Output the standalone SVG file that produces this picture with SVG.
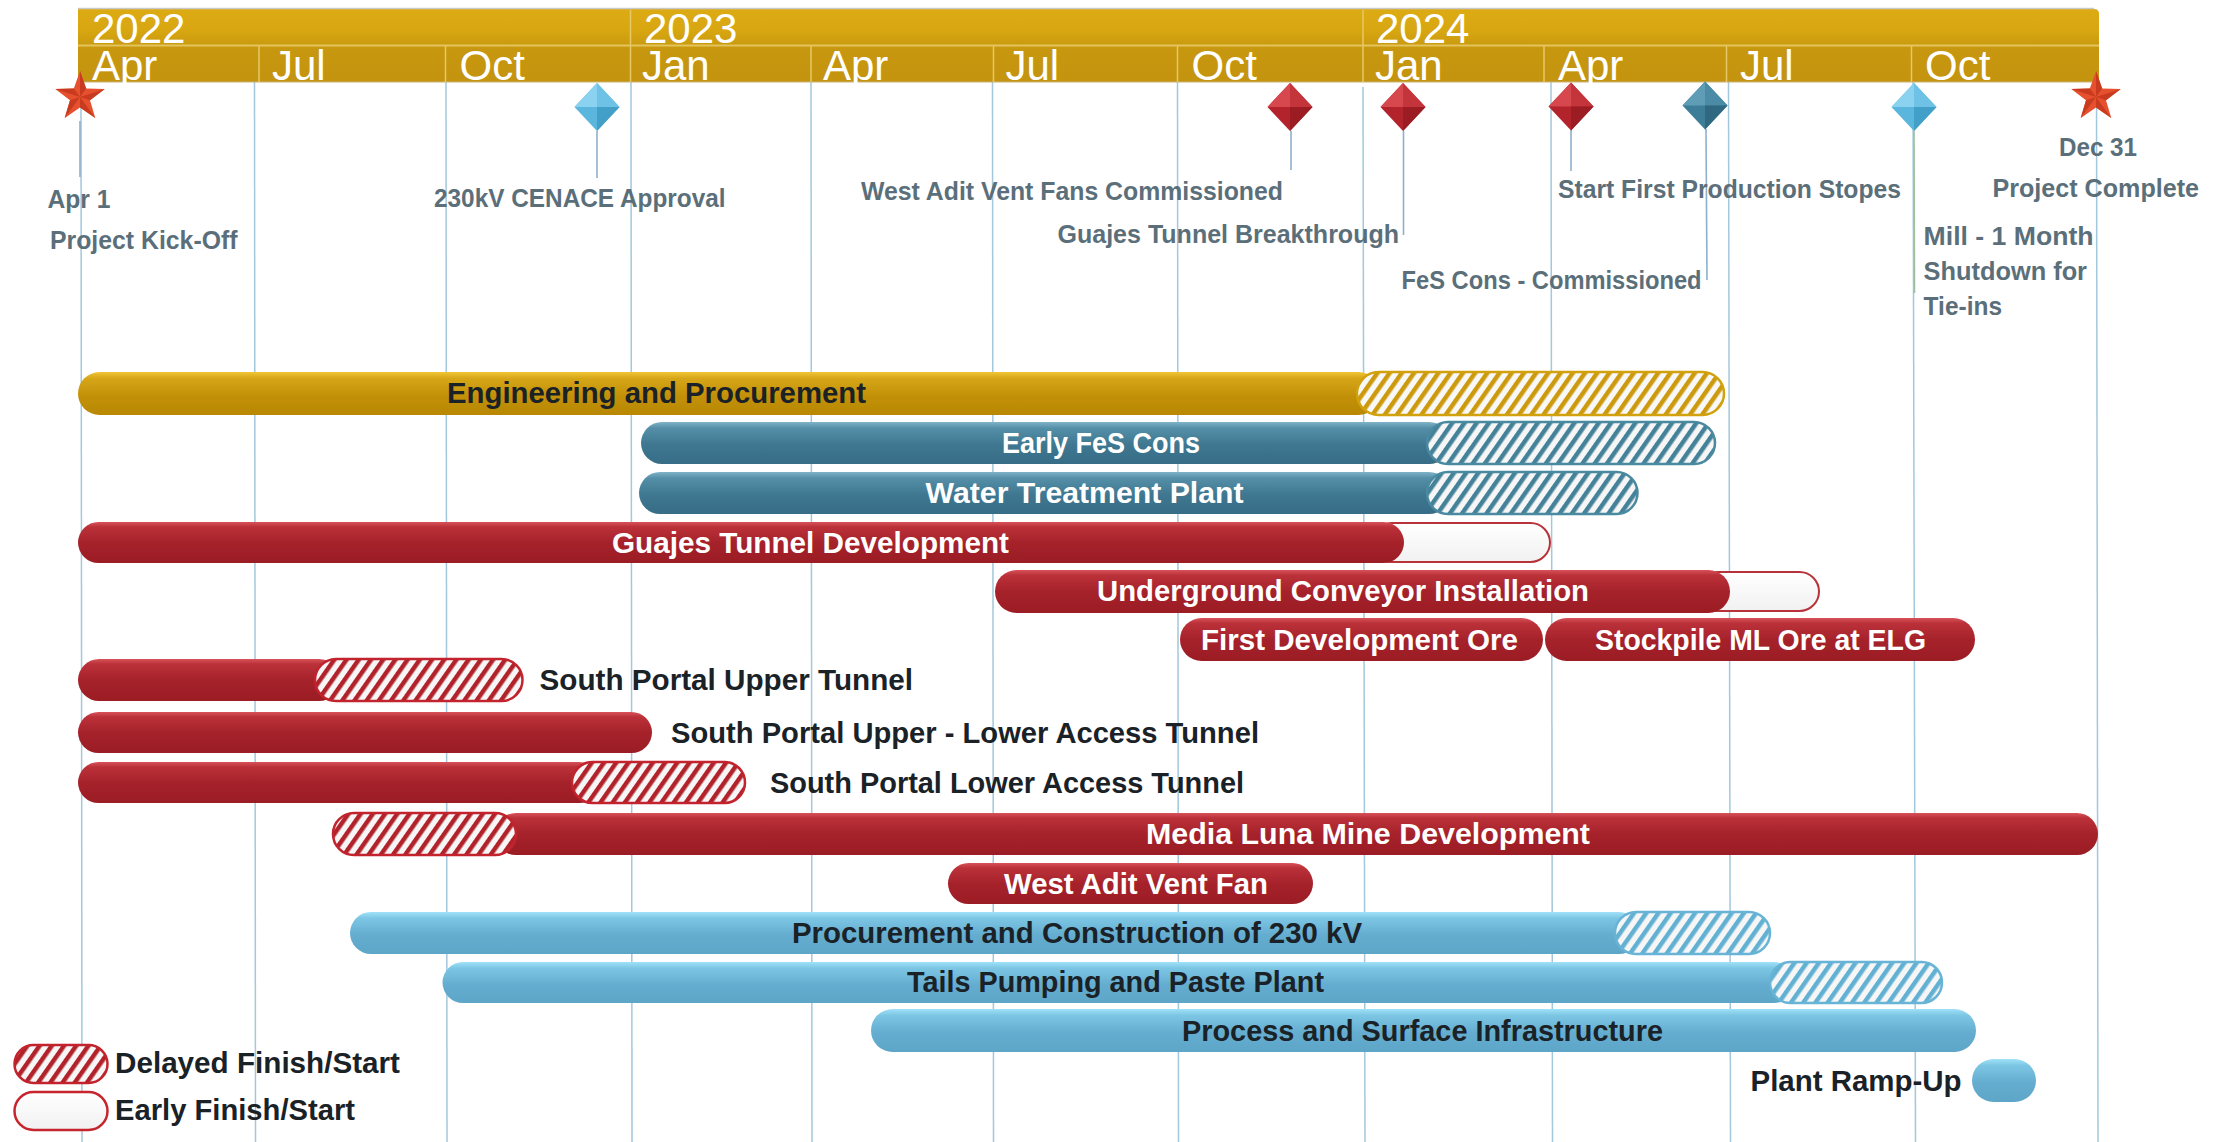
<svg xmlns="http://www.w3.org/2000/svg" xmlns:xlink="http://www.w3.org/1999/xlink" width="2224" height="1142" viewBox="0 0 2224 1142">
<style>
.hd{font-family:'Liberation Sans',Arial,sans-serif;font-size:42px;fill:#ffffff}
.lb{font-family:'Liberation Sans',Arial,sans-serif;font-weight:bold;font-size:29px}
.w{fill:#ffffff}
.k{fill:#1a2227}
.ms{font-family:'Liberation Sans',Arial,sans-serif;font-weight:bold;font-size:25px;fill:#5b6f7a}
.grid{stroke:#a3c7dc;stroke-width:1.5;fill:none}
.sep{stroke:#e6c866;stroke-width:1.5}
.stem{stroke:#8fb0cc;stroke-width:1.6;fill:none}
.red{fill:url(#gRed)}
.gold{fill:url(#gGold)}
.teal{fill:url(#gTeal)}
.lblue{fill:url(#gLBlue)}
.hRed{fill:url(#pRed);stroke:#c2232c;stroke-width:2.5}
.hGold{fill:url(#pGold);stroke:#d2a10e;stroke-width:2.5}
.hTeal{fill:url(#pTeal);stroke:#4a8aa0;stroke-width:2.5}
.hLBlue{fill:url(#pLBlue);stroke:#67b4d6;stroke-width:2.5}
.early{fill:url(#gWhite);stroke:#b8323a;stroke-width:2}
</style>
<defs>
<linearGradient id="gHead" x1="0" y1="0" x2="0" y2="1">
<stop offset="0" stop-color="#dcab14"/><stop offset="0.3" stop-color="#d7a611"/><stop offset="0.55" stop-color="#c7970f"/><stop offset="1" stop-color="#c4940f"/>
</linearGradient>
<linearGradient id="gRed" x1="0" y1="0" x2="0" y2="1">
<stop offset="0" stop-color="#d8525a"/><stop offset="0.12" stop-color="#bb3139"/><stop offset="0.5" stop-color="#a6222b"/><stop offset="1" stop-color="#9b1c24"/>
</linearGradient>
<linearGradient id="gGold" x1="0" y1="0" x2="0" y2="1">
<stop offset="0" stop-color="#f0c535"/><stop offset="0.15" stop-color="#d6a618"/><stop offset="0.55" stop-color="#c39108"/><stop offset="1" stop-color="#b88804"/>
</linearGradient>
<linearGradient id="gTeal" x1="0" y1="0" x2="0" y2="1">
<stop offset="0" stop-color="#7fb3c8"/><stop offset="0.15" stop-color="#548ea7"/><stop offset="0.55" stop-color="#3f7790"/><stop offset="1" stop-color="#376d86"/>
</linearGradient>
<linearGradient id="gLBlue" x1="0" y1="0" x2="0" y2="1">
<stop offset="0" stop-color="#a0e2f8"/><stop offset="0.15" stop-color="#7cc6e4"/><stop offset="0.55" stop-color="#65add0"/><stop offset="1" stop-color="#5ea6c8"/>
</linearGradient>
<linearGradient id="gWhite" x1="0" y1="0" x2="0" y2="1">
<stop offset="0" stop-color="#ffffff"/><stop offset="1" stop-color="#f1f1f1"/>
</linearGradient>
<pattern id="pRed" patternUnits="userSpaceOnUse" width="10" height="10" patternTransform="rotate(35)">
<rect width="10" height="10" fill="#f6f6f6"/><rect width="4.5" height="10" fill="#b1222b"/>
</pattern>
<pattern id="pGold" patternUnits="userSpaceOnUse" width="10" height="10" patternTransform="rotate(35)">
<rect width="10" height="10" fill="#f8f8f8"/><rect width="4.5" height="10" fill="#cc9a0c"/>
</pattern>
<pattern id="pTeal" patternUnits="userSpaceOnUse" width="10" height="10" patternTransform="rotate(35)">
<rect width="10" height="10" fill="#f6f6f6"/><rect width="4.5" height="10" fill="#44829a"/>
</pattern>
<pattern id="pLBlue" patternUnits="userSpaceOnUse" width="10" height="10" patternTransform="rotate(35)">
<rect width="10" height="10" fill="#f6f6f6"/><rect width="4.5" height="10" fill="#62b1d3"/>
</pattern>
<g id="star">
<polygon points="0,-26 6.17,-8.49 24.73,-8.03 9.99,3.24 15.28,21.03 0,10.5 -15.28,21.03 -9.99,3.24 -24.73,-8.03 -6.17,-8.49" fill="#e6502f"/>
<polygon points="0,0 0,-26 6.17,-8.49" fill="#c93b1f"/>
<polygon points="0,0 24.73,-8.03 9.99,3.24" fill="#c93b1f"/>
<polygon points="0,0 15.28,21.03 0,10.5" fill="#c93b1f"/>
<polygon points="0,0 -15.28,21.03 -9.99,3.24" fill="#c93b1f"/>
<polygon points="0,0 -24.73,-8.03 -6.17,-8.49" fill="#c93b1f"/>
</g>
<g id="dRed">
<polygon points="0,-24 22.5,0 0,24 -22.5,0" fill="#b3232b"/>
<polygon points="0,-24 -22.5,0 0,0" fill="#d6474e"/>
<polygon points="0,-24 22.5,0 0,0" fill="#c3343b"/>
<polygon points="0,24 22.5,0 0,0" fill="#9c1c24"/>
</g>
<g id="dLBlue">
<polygon points="0,-24 22.5,0 0,24 -22.5,0" fill="#5ab6dc"/>
<polygon points="0,-24 -22.5,0 0,0" fill="#8ad2ef"/>
<polygon points="0,-24 22.5,0 0,0" fill="#6ec2e5"/>
<polygon points="0,24 22.5,0 0,0" fill="#429fc8"/>
</g>
<g id="dTeal">
<polygon points="0,-24 22.5,0 0,24 -22.5,0" fill="#3e7d97"/>
<polygon points="0,-24 -22.5,0 0,0" fill="#5f9db6"/>
<polygon points="0,-24 22.5,0 0,0" fill="#4b8ba5"/>
<polygon points="0,24 22.5,0 0,0" fill="#2f6880"/>
</g>
</defs>

<rect width="2224" height="1142" fill="#ffffff"/>

<g id="gridlines">
<line class="grid" x1="81" y1="82" x2="82" y2="1142"/>
<line class="grid" x1="254.5" y1="82" x2="255.5" y2="1142"/>
<line class="grid" x1="446" y1="82" x2="447" y2="1142"/>
<line class="grid" x1="631" y1="82" x2="632" y2="1142"/>
<line class="grid" x1="811" y1="82" x2="812" y2="1142"/>
<line class="grid" x1="992.5" y1="82" x2="993.5" y2="1142"/>
<line class="grid" x1="1177.5" y1="82" x2="1178.5" y2="1142"/>
<line class="grid" x1="1363" y1="87" x2="1365" y2="1142"/>
<line class="grid" x1="1551" y1="82" x2="1552.5" y2="1142"/>
<line class="grid" x1="1728.5" y1="82" x2="1730.5" y2="1142"/>
<line class="grid" x1="1913" y1="82" x2="1915.5" y2="1142"/>
<line class="grid" x1="2096.5" y1="82" x2="2098" y2="1142"/>
</g>

<g id="timescale">
<path d="M78,9 H2094 Q2099,9 2099,14 V82 H78 Z" fill="url(#gHead)"/>
<line x1="78" y1="8.5" x2="2094" y2="8.5" stroke="#c9c9c9" stroke-width="1.5"/>
<line x1="78" y1="45.5" x2="2099" y2="45.5" stroke="#e4c45c" stroke-width="2"/>
<line x1="78" y1="82" x2="2099" y2="82" stroke="#c8b27a" stroke-width="1.2"/>
<line class="sep" x1="630.5" y1="10" x2="630.5" y2="45"/>
<line class="sep" x1="1363" y1="10" x2="1363" y2="45"/>
<line class="sep" x1="259" y1="46" x2="259" y2="82"/>
<line class="sep" x1="445.5" y1="46" x2="445.5" y2="82"/>
<line class="sep" x1="630.5" y1="46" x2="630.5" y2="82"/>
<line class="sep" x1="811" y1="46" x2="811" y2="82"/>
<line class="sep" x1="993.5" y1="46" x2="993.5" y2="82"/>
<line class="sep" x1="1177.5" y1="46" x2="1177.5" y2="82"/>
<line class="sep" x1="1363" y1="46" x2="1363" y2="82"/>
<line class="sep" x1="1544" y1="46" x2="1544" y2="82"/>
<line class="sep" x1="1726.5" y1="46" x2="1726.5" y2="82"/>
<line class="sep" x1="1911.5" y1="46" x2="1911.5" y2="82"/>
<text class="hd" x="92" y="43">2022</text>
<text class="hd" x="644" y="43">2023</text>
<text class="hd" x="1376" y="43">2024</text>
<text class="hd" x="92" y="80">Apr</text>
<text class="hd" x="272" y="80">Jul</text>
<text class="hd" x="459.5" y="80">Oct</text>
<text class="hd" x="642" y="80">Jan</text>
<text class="hd" x="823" y="80">Apr</text>
<text class="hd" x="1005.5" y="80">Jul</text>
<text class="hd" x="1191.5" y="80">Oct</text>
<text class="hd" x="1375" y="80">Jan</text>
<text class="hd" x="1558" y="80">Apr</text>
<text class="hd" x="1740" y="80">Jul</text>
<text class="hd" x="1925" y="80">Oct</text>
</g>

<g id="connectors">
<line class="stem" x1="80" y1="121" x2="80" y2="177"/>
<line class="stem" x1="597" y1="131" x2="597" y2="178"/>
<line class="stem" x1="1291" y1="131" x2="1291" y2="170"/>
<line class="stem" x1="1403.5" y1="131" x2="1403.5" y2="235"/>
<line class="stem" x1="1571" y1="130" x2="1571" y2="171"/>
<line class="stem" x1="1706" y1="129" x2="1707" y2="280"/>
<line class="stem" x1="1914" y1="131" x2="1914.5" y2="293" style="stroke:#9dbf9f"/>
</g>

<g id="ms-kickoff">
<use xlink:href="#star" href="#star" transform="translate(80,97)"/>
<text class="ms" x="47.5" y="208" textLength="63" lengthAdjust="spacingAndGlyphs">Apr 1</text>
<text class="ms" x="50" y="249" textLength="187.5" lengthAdjust="spacingAndGlyphs">Project Kick-Off</text>
</g>
<g id="ms-cenace">
<use xlink:href="#dLBlue" href="#dLBlue" transform="translate(597,107)"/>
<text class="ms" x="434" y="207" textLength="291.6" lengthAdjust="spacingAndGlyphs">230kV CENACE Approval</text>
</g>
<g id="ms-westadit">
<use xlink:href="#dRed" href="#dRed" transform="translate(1290,107)"/>
<text class="ms" x="861" y="200" textLength="422" lengthAdjust="spacingAndGlyphs">West Adit Vent Fans Commissioned</text>
</g>
<g id="ms-guajes">
<use xlink:href="#dRed" href="#dRed" transform="translate(1403,107)"/>
<text class="ms" x="1057.5" y="243" textLength="341.5" lengthAdjust="spacingAndGlyphs">Guajes Tunnel Breakthrough</text>
</g>
<g id="ms-stopes">
<use xlink:href="#dRed" href="#dRed" transform="translate(1571,106.5)"/>
<text class="ms" x="1558" y="198" textLength="343" lengthAdjust="spacingAndGlyphs">Start First Production Stopes</text>
</g>
<g id="ms-fescons">
<use xlink:href="#dTeal" href="#dTeal" transform="translate(1705,105.5)"/>
<text class="ms" x="1401.6" y="289" textLength="300" lengthAdjust="spacingAndGlyphs">FeS Cons - Commissioned</text>
</g>
<g id="ms-mill">
<use xlink:href="#dLBlue" href="#dLBlue" transform="translate(1914,107)"/>
<text class="ms" x="1923.6" y="245" textLength="170" lengthAdjust="spacingAndGlyphs">Mill - 1 Month</text>
<text class="ms" x="1923.6" y="280" textLength="163.4" lengthAdjust="spacingAndGlyphs">Shutdown for</text>
<text class="ms" x="1923.6" y="315" textLength="78.4" lengthAdjust="spacingAndGlyphs">Tie-ins</text>
</g>
<g id="ms-complete">
<use xlink:href="#star" href="#star" transform="translate(2096,97)"/>
<text class="ms" x="2059" y="156" textLength="78" lengthAdjust="spacingAndGlyphs">Dec 31</text>
<text class="ms" x="1992.5" y="197" textLength="206.5" lengthAdjust="spacingAndGlyphs">Project Complete</text>
</g>

<g id="bar-engineering">
<rect class="gold" x="78" y="372" width="1302" height="43" rx="21.5"/>
<rect class="hGold" x="1357" y="372" width="367" height="43" rx="21.5"/>
<text class="lb k" x="447" y="403" textLength="419" lengthAdjust="spacingAndGlyphs">Engineering and Procurement</text>
</g>
<g id="bar-earlyfes">
<rect class="teal" x="641" y="422" width="809" height="42" rx="21"/>
<rect class="hTeal" x="1427" y="422" width="288" height="42" rx="21"/>
<text class="lb w" x="1002" y="453" textLength="198" lengthAdjust="spacingAndGlyphs">Early FeS Cons</text>
</g>
<g id="bar-water">
<rect class="teal" x="639" y="472" width="811" height="42" rx="21"/>
<rect class="hTeal" x="1427" y="472" width="210.5" height="42" rx="21"/>
<text class="lb w" x="925.6" y="503" textLength="318" lengthAdjust="spacingAndGlyphs">Water Treatment Plant</text>
</g>
<g id="bar-guajes">
<rect class="early" x="1372" y="523" width="178" height="39" rx="19.5"/>
<rect class="red" x="78" y="522" width="1326" height="41" rx="20.5"/>
<text class="lb w" x="612" y="552.5" textLength="397" lengthAdjust="spacingAndGlyphs">Guajes Tunnel Development</text>
</g>
<g id="bar-conveyor">
<rect class="early" x="1698" y="572" width="121" height="39" rx="19.5"/>
<rect class="red" x="995" y="570" width="735" height="43" rx="21.5"/>
<text class="lb w" x="1097" y="601" textLength="492" lengthAdjust="spacingAndGlyphs">Underground Conveyor Installation</text>
</g>
<g id="bar-firstore">
<rect class="red" x="1180" y="618" width="363" height="43" rx="21.5"/>
<text class="lb w" x="1201" y="650" textLength="317" lengthAdjust="spacingAndGlyphs">First Development Ore</text>
</g>
<g id="bar-stockpile">
<rect class="red" x="1545" y="618" width="430" height="43" rx="21.5"/>
<text class="lb w" x="1595" y="650" textLength="331" lengthAdjust="spacingAndGlyphs">Stockpile ML Ore at ELG</text>
</g>
<g id="bar-spupper">
<rect class="red" x="78" y="659" width="262" height="42" rx="21"/>
<rect class="hRed" x="315" y="659" width="207.5" height="42" rx="21"/>
<text class="lb k" x="539.5" y="690" textLength="373.5" lengthAdjust="spacingAndGlyphs">South Portal Upper Tunnel</text>
</g>
<g id="bar-spupperlower">
<rect class="red" x="78" y="712" width="574" height="41" rx="20.5"/>
<text class="lb k" x="671" y="742.5" textLength="588" lengthAdjust="spacingAndGlyphs">South Portal Upper - Lower Access Tunnel</text>
</g>
<g id="bar-splower">
<rect class="red" x="78" y="762" width="522" height="41" rx="20.5"/>
<rect class="hRed" x="572" y="762" width="173" height="41" rx="20.5"/>
<text class="lb k" x="770" y="792.5" textLength="474" lengthAdjust="spacingAndGlyphs">South Portal Lower Access Tunnel</text>
</g>
<g id="bar-medialuna">
<rect class="red" x="495" y="813" width="1603" height="42" rx="21"/>
<rect class="hRed" x="333" y="813" width="183" height="42" rx="21"/>
<text class="lb w" x="1146" y="844" textLength="444" lengthAdjust="spacingAndGlyphs">Media Luna Mine Development</text>
</g>
<g id="bar-westadit">
<rect class="red" x="948" y="863" width="365" height="41" rx="20.5"/>
<text class="lb w" x="1004" y="893.5" textLength="264" lengthAdjust="spacingAndGlyphs">West Adit Vent Fan</text>
</g>
<g id="bar-230kv">
<rect class="lblue" x="350" y="912" width="1290" height="42" rx="21"/>
<rect class="hLBlue" x="1615" y="912" width="155" height="42" rx="21"/>
<text class="lb k" x="792" y="943" textLength="570" lengthAdjust="spacingAndGlyphs">Procurement and Construction of 230 kV</text>
</g>
<g id="bar-tails">
<rect class="lblue" x="442.5" y="962" width="1352" height="41" rx="20.5"/>
<rect class="hLBlue" x="1770" y="962" width="172" height="41" rx="20.5"/>
<text class="lb k" x="907" y="992" textLength="417" lengthAdjust="spacingAndGlyphs">Tails Pumping and Paste Plant</text>
</g>
<g id="bar-process">
<rect class="lblue" x="871" y="1009" width="1105" height="43" rx="21.5"/>
<text class="lb k" x="1182" y="1041" textLength="481" lengthAdjust="spacingAndGlyphs">Process and Surface Infrastructure</text>
</g>
<g id="bar-rampup">
<rect class="lblue" x="1972" y="1059" width="64" height="43" rx="21.5"/>
<text class="lb k" x="1750.5" y="1091" textLength="211" lengthAdjust="spacingAndGlyphs">Plant Ramp-Up</text>
</g>

<g id="legend">
<rect class="hRed" x="14.5" y="1045" width="93" height="38" rx="19"/>
<text class="lb k" x="115" y="1073" textLength="285" lengthAdjust="spacingAndGlyphs">Delayed Finish/Start</text>
<rect class="early" x="14.5" y="1092" width="93" height="38" rx="19" style="stroke:#c7242d;stroke-width:2.5"/>
<text class="lb k" x="115" y="1120" textLength="240" lengthAdjust="spacingAndGlyphs">Early Finish/Start</text>
</g>
</svg>
